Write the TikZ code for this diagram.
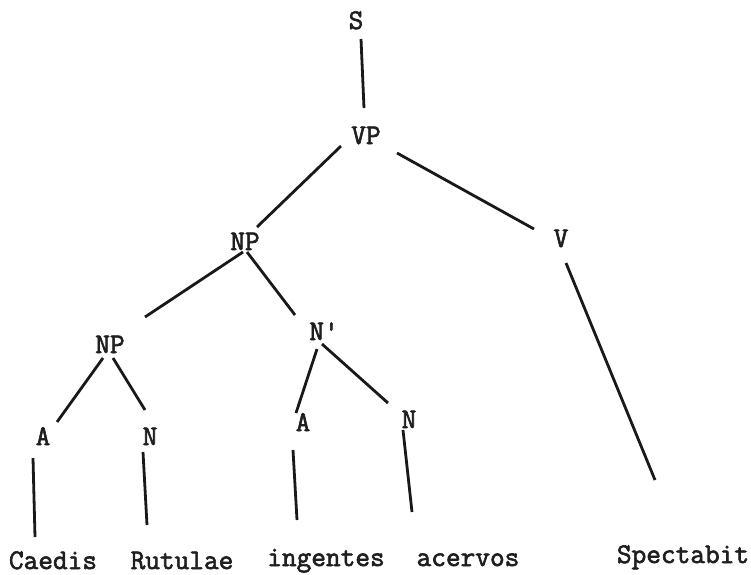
\documentclass[tikz,border=0pt]{standalone}
\usepackage{fontspec}
\newfontfamily\tw{Latin Modern Mono}[FakeBold=2.2]
\begin{document}
\begin{tikzpicture}[x=1pt,y=-1pt,
  lbl/.style={anchor=base,inner sep=0pt,font=\tw\fontsize{28.5}{28.5}\selectfont,text=black!88},
  edge/.style={line width=2.8pt,draw=black!90}]
\useasboundingbox (0,0) rectangle (751,574);
% category labels
\node[lbl] (s) at (356,29) {S};
\node[lbl] (vp) at (366,144) {VP};
\node[lbl] (np) at (245,250) {NP};
\node[lbl] (v) at (561,247) {V};
\node[lbl] (np2) at (110,353) {NP};
\node[lbl] (nb) at (324,340) {N'};
\node[lbl] (a1) at (43,445) {A};
\node[lbl] (n1) at (150,445) {N};
\node[lbl] (a2) at (303,431) {A};
\node[lbl] (n2) at (409,428) {N};
% words
\node[lbl] (caedis) at (53,569) {Caedis};
\node[lbl] (rutulae) at (182,569) {Rutulae};
\node[lbl] (ingentes) at (326,566) {ingentes};
\node[lbl] (acervos) at (468,566) {acervos};
\node[lbl] (spectabit) at (683,563) {Spectabit};
% connectors
\draw[edge] ([shift={(5,10)}]s.base) -- ([shift={(-2,-36)}]vp.base);
\draw[edge] ([shift={(-25,2)}]vp.base) -- ([shift={(12,-23)}]np.base);
\draw[edge] ([shift={(31,9)}]vp.base) -- ([shift={(-27,-18)}]v.base);
\draw[edge] ([shift={(-2,2)}]np.base) -- ([shift={(35,-36)}]np2.base);
\draw[edge] ([shift={(2,2)}]np.base) -- ([shift={(-29,-25)}]nb.base);
\draw[edge] ([shift={(5,16)}]v.base) -- ([shift={(-28,-83)}]spectabit.base);
\draw[edge] ([shift={(-7,5)}]np2.base) -- ([shift={(14,-23)}]a1.base);
\draw[edge] ([shift={(3,5)}]np2.base) -- ([shift={(-5,-35)}]n1.base);
\draw[edge] ([shift={(-7,9)}]nb.base) -- ([shift={(-7,-18)}]a2.base);
\draw[edge] ([shift={(-2,4)}]nb.base) -- ([shift={(-21,-25)}]n2.base);
\draw[edge] ([shift={(-10,13)}]a1.base) -- ([shift={(-18,-32)}]caedis.base);
\draw[edge] ([shift={(-7,7)}]n1.base) -- ([shift={(-35,-44)}]rutulae.base);
\draw[edge] ([shift={(-10,19)}]a2.base) -- ([shift={(-29,-46)}]ingentes.base);
\draw[edge] ([shift={(-6,2)}]n2.base) -- ([shift={(-56,-54)}]acervos.base);
\end{tikzpicture}
\end{document}
